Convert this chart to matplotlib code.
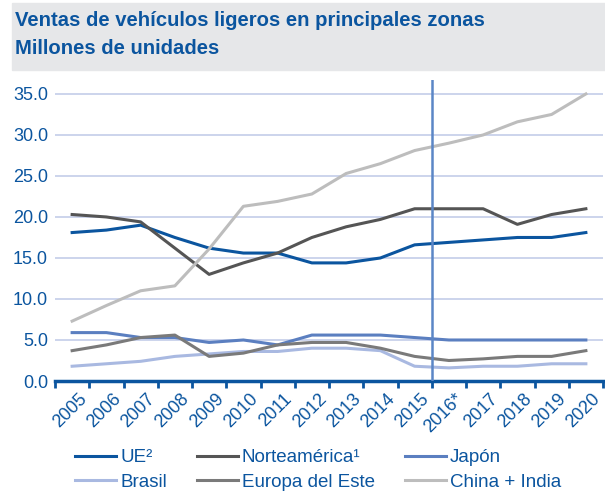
import numpy as np
import matplotlib.pyplot as plt
import matplotlib.transforms as mtransforms
from matplotlib.patches import Rectangle

plt.rcParams['font.family'] = ['Liberation Sans', 'DejaVu Sans']

# Data (millones de unidades)
years = ['2005', '2006', '2007', '2008', '2009', '2010', '2011', '2012',
         '2013', '2014', '2015', '2016*', '2017', '2018', '2019', '2020']
ue = [18.1, 18.4, 19.0, 17.5, 16.2, 15.6, 15.6, 14.4, 14.4, 15.0, 16.6, 16.9, 17.2, 17.5, 17.5, 18.1]
norteamerica = [20.3, 20.0, 19.4, 16.2, 13.0, 14.4, 15.6, 17.5, 18.8, 19.7, 21.0, 21.0, 21.0, 19.1, 20.3, 21.0]
japon = [5.9, 5.9, 5.3, 5.3, 4.7, 5.0, 4.4, 5.6, 5.6, 5.6, 5.3, 5.0, 5.0, 5.0, 5.0, 5.0]
brasil = [1.8, 2.1, 2.4, 3.0, 3.3, 3.6, 3.6, 4.0, 4.0, 3.7, 1.8, 1.6, 1.8, 1.8, 2.1, 2.1]
europa_este = [3.7, 4.4, 5.3, 5.6, 3.0, 3.4, 4.4, 4.7, 4.7, 4.0, 3.0, 2.5, 2.7, 3.0, 3.0, 3.7]
china_india = [7.3, 9.2, 11.0, 11.6, 16.1, 21.3, 21.9, 22.8, 25.3, 26.5, 28.1, 29.0, 30.0, 31.6, 32.5, 35.0]
yticks = [0, 5, 10, 15, 20, 25, 30, 35]

blue = '#0b559f'
fig = plt.figure(figsize=(6.05, 5.0), dpi=100)

# header band
fig.patches.append(Rectangle((12 / 605, 1 - 70 / 500), 593 / 605, 67 / 500,
                             transform=fig.transFigure, color='#e6e7e9', zorder=0))
fig.text(15 / 605, 1 - 21 / 500, 'Ventas de vehículos ligeros en principales zonas',
         fontsize=14.6, fontweight='bold', color=blue, va='center')
fig.text(15 / 605, 1 - 48 / 500, 'Millones de unidades',
         fontsize=14.6, fontweight='bold', color=blue, va='center')

ax = fig.add_axes([55 / 605, 1 - 381 / 500, 548 / 605, 301 / 500])
x = np.arange(len(years))

series = [
    (ue, 'UE²', '#0b559f'),
    (norteamerica, 'Norteamérica¹', '#555555'),
    (japon, 'Japón', '#5b7fc0'),
    (brasil, 'Brasil', '#a9b9e1'),
    (europa_este, 'Europa del Este', '#7a7a7a'),
    (china_india, 'China + India', '#bdbdbd'),
]
handles = []
for vals, lab, col in series:
    h, = ax.plot(x, vals, color=col, lw=2.2, label=lab, zorder=3)
    handles.append(h)

ax.set_xlim(-0.5, len(years) - 0.5)
ax.set_ylim(0, 36.7)
ax.set_yticks(yticks)
ax.set_yticklabels([f'{v:.1f}' for v in yticks])
ax.yaxis.grid(True, color='#c4cde9', lw=1.2)
ax.set_axisbelow(True)
for s in ['top', 'right', 'left']:
    ax.spines[s].set_visible(False)
ax.spines['bottom'].set_color(blue)
ax.spines['bottom'].set_linewidth(2.5)
ax.tick_params(axis='y', length=0, labelsize=13, labelcolor=blue, pad=5)

ax.set_xticks(np.arange(len(years) + 1) - 0.5, minor=False)
ax.set_xticklabels([])
ax.set_xticks(x, minor=True)
ax.set_xticklabels(years, minor=True, rotation=45, ha='right', va='top',
                   rotation_mode='anchor')
ax.tick_params(axis='x', which='major', length=5, width=2, color=blue, direction='out')
ax.tick_params(axis='x', which='minor', length=0, labelsize=13, labelcolor=blue, pad=7)
shift = mtransforms.ScaledTranslation(6 / 100, 0, fig.dpi_scale_trans)
for lbl in ax.get_xticklabels(minor=True):
    lbl.set_transform(lbl.get_transform() + shift)

# separation estimate / forecast
ax.axvline(10.5, color='#5b86c6', lw=1.8, zorder=4)

# legend fills column-wise: reorder so rows read UE/Norteamérica/Japón
order = [0, 3, 1, 4, 2, 5]
fig.legend(handles=[handles[i] for i in order], loc='center',
           bbox_to_anchor=(318 / 605, 1 - 470 / 500),
           ncol=3, frameon=False, fontsize=13.5, handlelength=2.2, handletextpad=0.2,
           columnspacing=1.6, labelspacing=0.4, labelcolor=blue)

fig.savefig('out.png', dpi=100)
